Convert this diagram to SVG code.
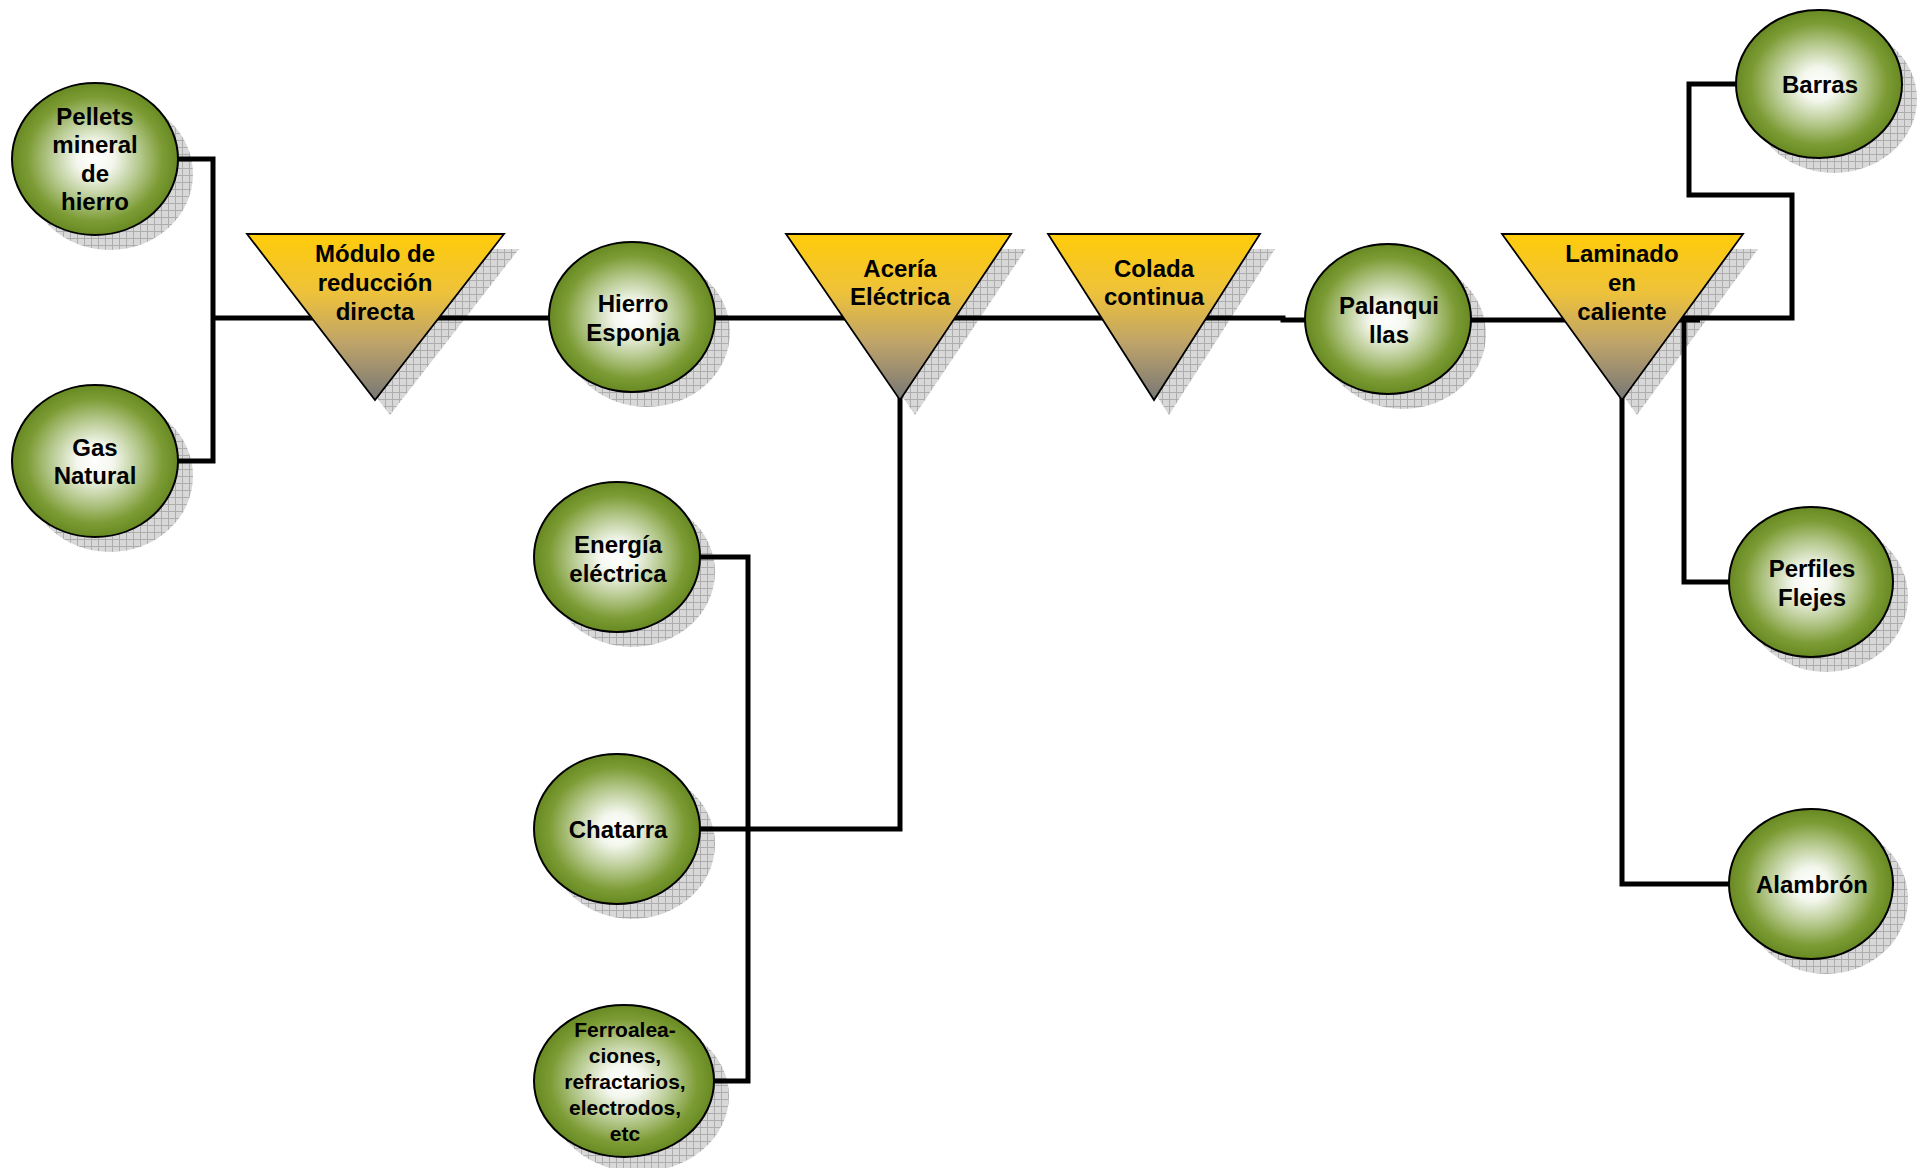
<svg xmlns="http://www.w3.org/2000/svg" width="1927" height="1168" viewBox="0 0 1927 1168">
<defs>
<style>
.t{font-family:"Liberation Sans",Arial,sans-serif;font-weight:bold;font-size:24px;text-anchor:middle;fill:#000}
.ts{font-size:21px}
.c{fill:url(#gc);stroke:#000;stroke-width:2}
.tri{fill:url(#gt);stroke:#000;stroke-width:1.8}
.sh{fill:url(#hatch)}
.ln{fill:none;stroke:#000;stroke-width:5;stroke-linejoin:miter}
</style>
<radialGradient id="gc" cx="50%" cy="50%" r="50%">
<stop offset="0" stop-color="#ffffff"/>
<stop offset="0.22" stop-color="#f4f7ee"/>
<stop offset="0.55" stop-color="#b3c78a"/>
<stop offset="0.82" stop-color="#7c9b34"/>
<stop offset="1" stop-color="#688a22"/>
</radialGradient>
<linearGradient id="gt" x1="0" y1="0" x2="0" y2="1">
<stop offset="0" stop-color="#ffcc0a"/>
<stop offset="0.35" stop-color="#eec23a"/>
<stop offset="0.65" stop-color="#bfa468"/>
<stop offset="1" stop-color="#777777"/>
</linearGradient>
<pattern id="hatch" width="7" height="7" patternUnits="userSpaceOnUse">
<rect width="7" height="7" fill="#d8d8d8"/>
<path d="M0 0.5H7M0.5 0V7" stroke="#adadad" stroke-width="1"/>
</pattern>
</defs>
<rect width="1927" height="1168" fill="#fff"/>

<g id="shadows">
<ellipse class="sh" cx="110" cy="174" rx="83" ry="76"/>
<ellipse class="sh" cx="110" cy="476" rx="83" ry="76"/>
<polygon class="sh" points="262,249 519,249 390,415"/>
<ellipse class="sh" cx="647" cy="332" rx="83" ry="75"/>
<polygon class="sh" points="801,249 1026,249 915,415"/>
<polygon class="sh" points="1063,249 1275,249 1169,415"/>
<ellipse class="sh" cx="1403" cy="334" rx="83" ry="75"/>
<polygon class="sh" points="1517,249 1758,249 1637,415"/>
<ellipse class="sh" cx="1834" cy="99" rx="83" ry="74"/>
<ellipse class="sh" cx="1826" cy="597" rx="82" ry="75"/>
<ellipse class="sh" cx="1826" cy="899" rx="82" ry="75"/>
<ellipse class="sh" cx="632" cy="572" rx="83" ry="75"/>
<ellipse class="sh" cx="632" cy="844" rx="83" ry="75"/>
<ellipse class="sh" cx="639" cy="1096" rx="90" ry="76"/>
</g>

<g id="connectors">
<polyline class="ln" points="170,159 213,159 213,461 170,461"/>
<polyline class="ln" points="213,318 1283,318 1283,320 1700,320"/>
<polyline class="ln" points="1660,318 1792,318 1792,195 1689,195 1689,84 1740,84"/>
<polyline class="ln" points="1684,318 1684,582 1732,582"/>
<polyline class="ln" points="1622,390 1622,884 1732,884"/>
<polyline class="ln" points="695,557 748,557 748,1081 710,1081"/>
<polyline class="ln" points="695,829 900,829 900,390"/>
</g>

<g id="n-pellets">
<ellipse class="c" cx="95" cy="159" rx="83" ry="76"/>
<text class="t" x="95"><tspan x="95" y="125">Pellets</tspan><tspan x="95" y="153">mineral</tspan><tspan x="95" y="182">de</tspan><tspan x="95" y="210">hierro</tspan></text>
</g>
<g id="n-gas">
<ellipse class="c" cx="95" cy="461" rx="83" ry="76"/>
<text class="t"><tspan x="95" y="456">Gas</tspan><tspan x="95" y="484">Natural</tspan></text>
</g>
<g id="n-modulo">
<polygon class="tri" points="247,234 504,234 375,400"/>
<text class="t"><tspan x="375" y="262">Módulo de</tspan><tspan x="375" y="291">reducción</tspan><tspan x="375" y="320">directa</tspan></text>
</g>
<g id="n-hierro">
<ellipse class="c" cx="632" cy="317" rx="83" ry="75"/>
<text class="t"><tspan x="633" y="312">Hierro</tspan><tspan x="633" y="341">Esponja</tspan></text>
</g>
<g id="n-aceria">
<polygon class="tri" points="786,234 1011,234 900,400"/>
<text class="t"><tspan x="900" y="277">Acería</tspan><tspan x="900" y="305">Eléctrica</tspan></text>
</g>
<g id="n-colada">
<polygon class="tri" points="1048,234 1260,234 1154,400"/>
<text class="t"><tspan x="1154" y="277">Colada</tspan><tspan x="1154" y="305">continua</tspan></text>
</g>
<g id="n-palanquillas">
<ellipse class="c" cx="1388" cy="319" rx="83" ry="75"/>
<text class="t"><tspan x="1389" y="314">Palanqui</tspan><tspan x="1389" y="343">llas</tspan></text>
</g>
<g id="n-laminado">
<polygon class="tri" points="1502,234 1743,234 1622,400"/>
<text class="t"><tspan x="1622" y="262">Laminado</tspan><tspan x="1622" y="291">en</tspan><tspan x="1622" y="320">caliente</tspan></text>
</g>
<g id="n-barras">
<ellipse class="c" cx="1819" cy="84" rx="83" ry="74"/>
<text class="t" x="1820" y="93">Barras</text>
</g>
<g id="n-perfiles">
<ellipse class="c" cx="1811" cy="582" rx="82" ry="75"/>
<text class="t"><tspan x="1812" y="577">Perfiles</tspan><tspan x="1812" y="606">Flejes</tspan></text>
</g>
<g id="n-alambron">
<ellipse class="c" cx="1811" cy="884" rx="82" ry="75"/>
<text class="t" x="1812" y="893">Alambrón</text>
</g>
<g id="n-energia">
<ellipse class="c" cx="617" cy="557" rx="83" ry="75"/>
<text class="t"><tspan x="618" y="553">Energía</tspan><tspan x="618" y="582">eléctrica</tspan></text>
</g>
<g id="n-chatarra">
<ellipse class="c" cx="617" cy="829" rx="83" ry="75"/>
<text class="t" x="618" y="838">Chatarra</text>
</g>
<g id="n-ferro">
<ellipse class="c" cx="624" cy="1081" rx="90" ry="76"/>
<text class="t ts"><tspan x="625" y="1037">Ferroalea-</tspan><tspan x="625" y="1063">ciones,</tspan><tspan x="625" y="1089">refractarios,</tspan><tspan x="625" y="1115">electrodos,</tspan><tspan x="625" y="1141">etc</tspan></text>
</g>
</svg>
